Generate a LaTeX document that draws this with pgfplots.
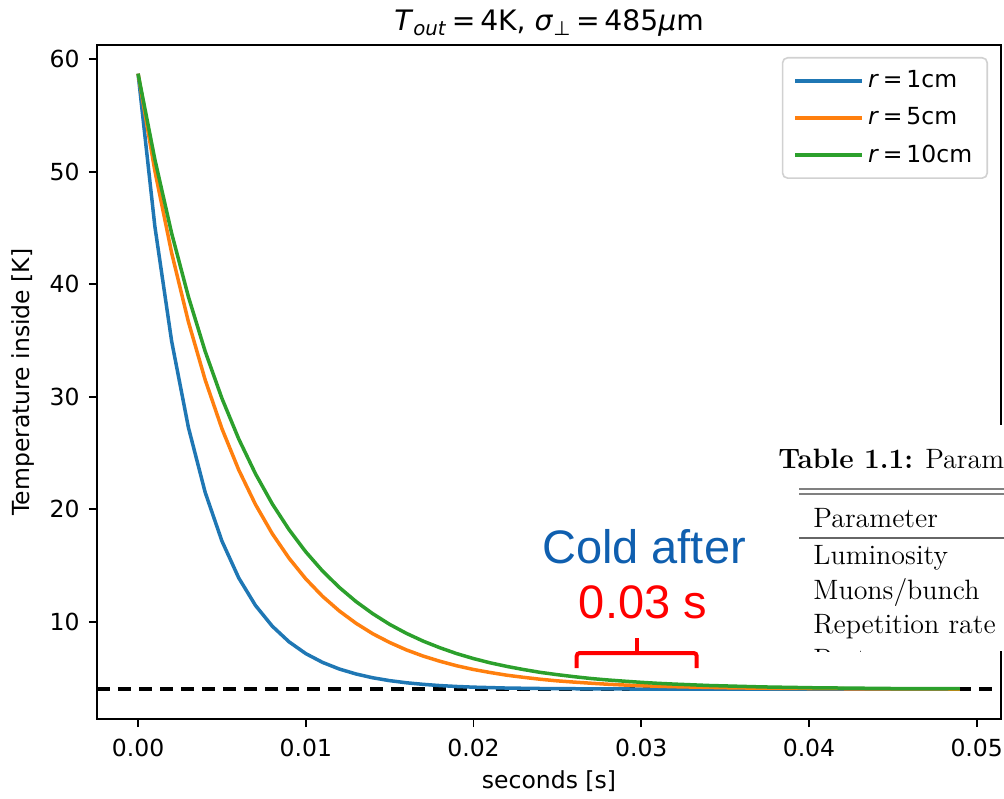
\documentclass[border=0pt]{standalone}
\usepackage{pgfplots}
\pgfplotsset{compat=1.18}
\usepackage{fontspec}
\newfontfamily\djv{DejaVu Sans}
\newfontfamily\lib{Liberation Sans}
\definecolor{tabblue}{HTML}{1F77B4}
\definecolor{taborange}{HTML}{FF7F0E}
\definecolor{tabgreen}{HTML}{2CA02C}
\definecolor{coldblue}{HTML}{0F5FAF}
\newcommand{\basefont}{\djv\fontsize{11.75}{14}\selectfont}
\begin{document}
\begin{tikzpicture}
\begin{axis}[
  at={(0,0)}, anchor=south west,
  scale only axis, width=452pt, height=337pt,
  xmin=-0.00245, xmax=0.05145, ymin=1.35, ymax=61.25,
  xtick={0,0.01,0.02,0.03,0.04,0.05},
  ytick={10,20,30,40,50,60},
  scaled x ticks=false,
  xticklabel style={/pgf/number format/fixed, /pgf/number format/fixed zerofill, /pgf/number format/precision=2},
  /pgf/number format/assume math mode=true,
  tick label style={font=\basefont, inner sep=0pt},
  xticklabel style={anchor=north, yshift=-6pt},
  yticklabel style={anchor=east, xshift=-4.5pt},
  tick align=outside, major tick length=4pt,
  xtick pos=bottom, ytick pos=left,
  tick style={black, line width=0.95pt},
  axis line style={line width=0.95pt},
  every axis title shift=0pt,
  title={\djv\fontsize{14.1}{17}\selectfont\textit{T}\textsubscript{\textit{out}}\,=\,4K, \textit{σ}\textsubscript{⊥}\,=\,485\textit{μ}m},
  title style={at={(0.5,1)}, anchor=base, yshift=7pt, inner sep=0pt},
  xlabel={seconds [s]},
  xlabel style={at={(axis description cs:0.5,-0.1024)}, anchor=base, inner sep=0pt, font=\basefont},
  ylabel={Temperature inside [K]},
  ylabel style={at={(axis description cs:-0.0686,0.5)}, anchor=south, inner sep=0pt, font=\basefont},
  legend style={at={(1,1)}, anchor=north east, xshift=-6.5pt, yshift=-6pt, draw=black!18, line width=0.8pt, rounded corners=2.5pt, fill=white, font=\basefont, row sep=4.4pt, inner xsep=5.5pt, inner ysep=4.5pt, cells={anchor=west}},
  legend image code/.code={\draw[#1, line width=1.75pt] (0pt,0pt) -- (27pt,0pt); \path (27pt,0pt) -- (33.5pt,0pt);},
]
\addplot[black, line width=1.75pt, dash pattern=on 6.5pt off 4pt, forget plot] coordinates {(-0.00245,4) (0.05145,4)};
\addplot[tabblue, line width=1.75pt, line join=round] coordinates {
(0,58.70) (0.001,45.13) (0.002,34.93) (0.003,27.26) (0.004,21.49) (0.005,17.16) (0.006,13.89) (0.007,11.44) (0.008,9.60) (0.009,8.21)
(0.010,7.16) (0.011,6.38) (0.012,5.79) (0.013,5.35) (0.014,5.01) (0.015,4.76) (0.016,4.57) (0.017,4.43) (0.018,4.32) (0.019,4.24)
(0.020,4.18) (0.021,4.14) (0.022,4.10) (0.023,4.08) (0.024,4.06) (0.025,4.05) (0.026,4.04) (0.027,4.03) (0.028,4.02) (0.029,4.02)
(0.030,4.01) (0.031,4.01) (0.032,4.01) (0.033,4.01) (0.034,4.00) (0.035,4.00) (0.036,4.00) (0.037,4.00) (0.038,4.00) (0.039,4.00)
(0.040,4.00) (0.041,4.00) (0.042,4.00) (0.043,4.00) (0.044,4.00) (0.045,4.00) (0.046,4.00) (0.047,4.00) (0.048,4.00) (0.049,4.00)};
\addlegendentry{\textit{r}\,=\,1cm}
\addplot[taborange, line width=1.75pt, line join=round] coordinates {
(0,58.70) (0.001,50.06) (0.002,42.78) (0.003,36.65) (0.004,31.49) (0.005,27.15) (0.006,23.49) (0.007,20.41) (0.008,17.82) (0.009,15.64)
(0.010,13.80) (0.011,12.25) (0.012,10.95) (0.013,9.85) (0.014,8.92) (0.015,8.15) (0.016,7.49) (0.017,6.94) (0.018,6.48) (0.019,6.08)
(0.020,5.75) (0.021,5.48) (0.022,5.24) (0.023,5.05) (0.024,4.88) (0.025,4.74) (0.026,4.63) (0.027,4.53) (0.028,4.44) (0.029,4.37)
(0.030,4.31) (0.031,4.26) (0.032,4.22) (0.033,4.19) (0.034,4.16) (0.035,4.13) (0.036,4.11) (0.037,4.09) (0.038,4.08) (0.039,4.07)
(0.040,4.06) (0.041,4.05) (0.042,4.04) (0.043,4.03) (0.044,4.03) (0.045,4.03) (0.046,4.02) (0.047,4.02) (0.048,4.02) (0.049,4.01)};
\addlegendentry{\textit{r}\,=\,5cm}
\addplot[tabgreen, line width=1.75pt, line join=round] coordinates {
(0,58.70) (0.001,51.08) (0.002,44.52) (0.003,38.88) (0.004,34.02) (0.005,29.84) (0.006,26.24) (0.007,23.14) (0.008,20.47) (0.009,18.18)
(0.010,16.20) (0.011,14.50) (0.012,13.04) (0.013,11.78) (0.014,10.70) (0.015,9.76) (0.016,8.96) (0.017,8.27) (0.018,7.68) (0.019,7.16)
(0.020,6.72) (0.021,6.34) (0.022,6.02) (0.023,5.74) (0.024,5.49) (0.025,5.29) (0.026,5.11) (0.027,4.95) (0.028,4.82) (0.029,4.71)
(0.030,4.61) (0.031,4.52) (0.032,4.45) (0.033,4.39) (0.034,4.33) (0.035,4.29) (0.036,4.25) (0.037,4.21) (0.038,4.18) (0.039,4.16)
(0.040,4.13) (0.041,4.12) (0.042,4.10) (0.043,4.09) (0.044,4.07) (0.045,4.06) (0.046,4.05) (0.047,4.05) (0.048,4.04) (0.049,4.04)};
\addlegendentry{\textit{r}\,=\,10cm}
\end{axis}
% overlay in image pixel coordinates
\begin{scope}[shift={(-48.5pt,359.5pt)}, x=0.5pt, y=-0.5pt]
\draw[red, line width=2pt, rounded corners=1.5pt] (576.7,668) -- (576.7,653) -- (696.7,653) -- (696.7,668);
\draw[red, line width=2pt] (636.7,653) -- (636.7,638);
\node[coldblue, font=\lib\fontsize{23.5}{28}\selectfont, anchor=base, inner sep=0pt] at (644,563) {Cold after};
\node[red, font=\lib\fontsize{23.5}{28}\selectfont, anchor=base, inner sep=0pt] at (643,618) {0.03 s};
\fill[white] (770,425) rectangle (1010,651);
\node[anchor=base west, inner sep=0pt, font=\fontsize{14}{17}\selectfont, text=black] at (778,468) {\textbf{Table 1.1:} Parameters of the collider};
\draw[black!50, line width=0.7pt] (799,489) -- (1010,489);
\draw[black!50, line width=0.7pt] (799,494) -- (1010,494);
\draw[black!60, line width=0.7pt] (799,538) -- (1010,538);
\node[anchor=base west, inner sep=0pt, font=\fontsize{14}{17}\selectfont, text=black] at (813,527) {Parameter};
\node[anchor=base west, inner sep=0pt, font=\fontsize{14}{17}\selectfont, text=black] at (813,564) {Luminosity};
\node[anchor=base west, inner sep=0pt, font=\fontsize{14}{17}\selectfont, text=black] at (813,599) {Muons/bunch};
\node[anchor=base west, inner sep=0pt, font=\fontsize{14}{17}\selectfont, text=black] at (813,633) {Repetition rate};
\begin{scope}
\clip (770,640) rectangle (1010,651);
\node[anchor=base west, inner sep=0pt, font=\fontsize{14}{17}\selectfont, text=black] at (813,668) {Proton};
\end{scope}
\pgfresetboundingbox
\path[use as bounding box] (0,0) rectangle (1004,798);
\end{scope}
\end{tikzpicture}
\end{document}
